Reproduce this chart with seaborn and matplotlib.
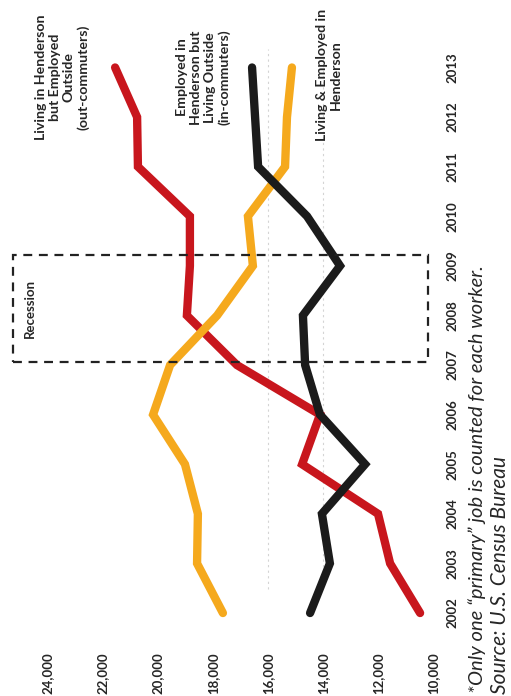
#Henderson commuting flows (chart drawn sideways, like the scanned page)
import pandas as pd
import numpy as np
import seaborn as sns
import matplotlib.pyplot as plt
from matplotlib.patches import Rectangle

#Datos
years = [2002, 2003, 2004, 2005, 2006, 2007, 2008, 2009, 2010, 2011, 2012, 2013]
out_commuters = [10470, 11560, 12000, 14760, 14110, 17130, 18950, 18840, 18840, 20730, 20760, 21560]
in_commuters = [17640, 18580, 18550, 19020, 20180, 19560, 17850, 16550, 16730, 15380, 15310, 15130]
living_employed = [14470, 13750, 14040, 12470, 14110, 14650, 14730, 13380, 14580, 16360, 16470, 16580]
series_names = ['out', 'in', 'local']
series_colors = ['#C8161D', '#F5A91D', '#1B1B1B']
value_ticks = [24000, 22000, 20000, 18000, 16000, 14000, 12000, 10000]

df = pd.DataFrame({
    'year': years * 3,
    'value': out_commuters + in_commuters + living_employed,
    'serie': ['out'] * 12 + ['in'] * 12 + ['local'] * 12,
})

sns.set_style('white')
plt.rcParams['font.family'] = ['Lato', 'DejaVu Sans']

fig = plt.figure(figsize=(5.11, 6.96), dpi=100)
ax = fig.add_axes([10 / 511, 56 / 696, 435 / 511, 635 / 696])

sns.lineplot(data=df, x='value', y='year', hue='serie', hue_order=series_names,
             palette=series_colors, orient='y', sort=False, linewidth=6,
             legend=False, ax=ax, solid_capstyle='round', solid_joinstyle='miter')

ax.set_xlim(25382, 9564)
ax.set_ylim(2001.456, 2014.26)
for s in ax.spines.values():
    s.set_visible(False)

#Grilla muy tenue
for v in [16000, 14000]:
    ax.axvline(v, ymin=0.08, ymax=0.93, color='#d4d4d4', lw=0.8, ls=(0, (2, 3)), zorder=0)

ax.set_xticks(value_ticks)
ax.set_xticklabels([f'{v:,}' for v in value_ticks], rotation=90, fontsize=9.5,
                   fontweight='bold', va='top')
ax.yaxis.tick_right()
ax.set_yticks(years)
ax.set_yticklabels([str(y) for y in years], rotation=90, fontsize=9.5,
                   fontweight='bold', va='center')
ax.tick_params(axis='x', length=0, pad=9)
ax.tick_params(axis='y', length=0, pad=1)
ax.set_xlabel('')
ax.set_ylabel('')

#Recuadro de recesion
ax.add_patch(Rectangle((25273, 2007.06), 10182 - 25273, 2009.22 - 2007.06,
                       fill=False, ec='#222222', lw=1.6, ls=(0, (4, 3)), zorder=5))
ax.text(24655, 2008.15, 'Recession', rotation=90, fontsize=9.5, fontweight='bold',
        ha='center', va='center')

#Etiquetas de las series
ax.text(23491, 2012.81, 'Living in Henderson\nbut Employed\nOutside\n(out-commuters)',
        rotation=90, fontsize=10.2, fontweight='bold', ha='center', va='center',
        multialignment='center', linespacing=1.2)
ax.text(18350, 2012.8, 'Employed in\nHenderson but\nLiving Outside\n(in-commuters)',
        rotation=90, fontsize=10.2, fontweight='bold', ha='center', va='center',
        multialignment='center', linespacing=1.2)
ax.text(13780, 2012.85, 'Living & Employed in\nHenderson',
        rotation=90, fontsize=10.2, fontweight='bold', ha='center', va='center',
        multialignment='center', linespacing=1.2)

#Notas
fig.text(477 / 511, 3 / 696, '*Only one \u201cprimary\u201d job is counted for each worker.',
         rotation=90, fontsize=14.5, fontstyle='italic', ha='center', va='bottom')
fig.text(500 / 511, 2 / 696, 'Source: U.S. Census Bureau',
         rotation=90, fontsize=15, fontstyle='italic', ha='center', va='bottom')

plt.savefig('out.png', dpi=100)
